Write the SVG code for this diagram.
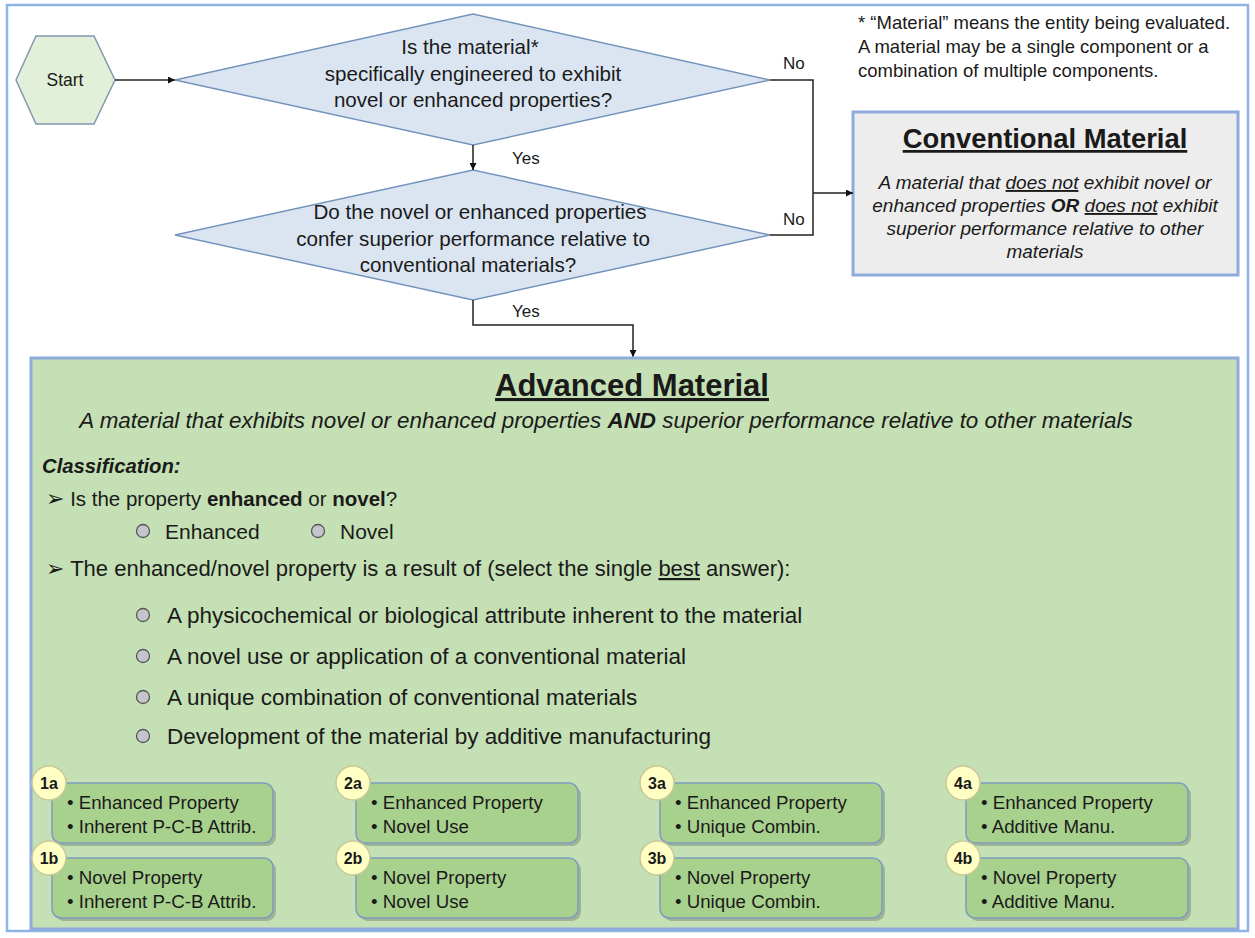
<svg xmlns="http://www.w3.org/2000/svg" width="1255" height="938" viewBox="0 0 1255 938">
<style>
text{font-family:"Liberation Sans",Arial,sans-serif;fill:#1a1a1a}
.q{font-size:20.6px;text-anchor:middle}
.lbl{font-size:17px}
.dia{fill:#dbe5f2;stroke:#7393bd;stroke-width:1.5}
.conn{fill:none;stroke:#222;stroke-width:1.5}
.opt{font-size:22.5px}
.rad{fill:#c4c4cc;stroke:#555;stroke-width:1.3}
.box{fill:#a9d18e;stroke:#7f9cbf;stroke-width:1.5}
.shd{fill:#6f7f6a;opacity:.45}
.badge{fill:#ffffc4;stroke:#c8c89a;stroke-width:1.5}
.bt{font-size:16px;font-weight:bold;text-anchor:middle}
.it{font-size:18.7px}
.ar{font-family:"DejaVu Sans",sans-serif;font-size:22px}
</style>
<defs>
<marker id="ah" viewBox="0 0 10 10" refX="10" refY="5" markerWidth="7" markerHeight="7" markerUnits="userSpaceOnUse" orient="auto"><path d="M0,0L10,5L0,10z" fill="#111"/></marker>
</defs>
<rect x="0" y="0" width="1255" height="938" fill="#fff"/>
<rect x="7" y="5" width="1241" height="926" fill="none" stroke="#8eb4e3" stroke-width="2.5"/>

<g id="start">
<polygon points="16,80 36,36 94,36 115,80 94,124 36,124" fill="#e2efd9" stroke="#8497b0" stroke-width="1.5"/>
<text x="65" y="86" font-size="17.5" text-anchor="middle">Start</text>
</g>

<g id="q1">
<polygon class="dia" points="175,80 473,14 770,80 473,145"/>
<text class="q" x="470" y="54">Is the material*</text>
<text class="q" x="473" y="81">specifically engineered to exhibit</text>
<text class="q" x="473" y="107">novel or enhanced properties?</text>
</g>

<g id="q2">
<polygon class="dia" points="175,235 473,170 770,235 473,300"/>
<text class="q" x="480" y="219">Do the novel or enhanced properties</text>
<text class="q" x="473" y="246">confer superior performance relative to</text>
<text class="q" x="468" y="272">conventional materials?</text>
</g>

<g id="note">
<text x="858" y="29" font-size="18.5">* “Material” means the entity being evaluated.</text>
<text x="858" y="53" font-size="18.5">A material may be a single component or a</text>
<text x="858" y="77" font-size="18.5">combination of multiple components.</text>
</g>

<g id="conventional">
<rect x="853" y="112" width="385" height="163" fill="#ededed" stroke="#8faadc" stroke-width="3"/>
<text x="1045" y="148" font-size="27.4" font-weight="bold" text-anchor="middle" text-decoration="underline">Conventional Material</text>
<text x="1045" y="189" font-size="19" font-style="italic" text-anchor="middle">A material that <tspan text-decoration="underline">does not</tspan> exhibit novel or</text>
<text x="1045" y="212" font-size="19" font-style="italic" text-anchor="middle">enhanced properties <tspan font-weight="bold">OR</tspan> <tspan text-decoration="underline">does not</tspan> exhibit</text>
<text x="1045" y="235" font-size="19" font-style="italic" text-anchor="middle">superior performance relative to other</text>
<text x="1045" y="258" font-size="19" font-style="italic" text-anchor="middle">materials</text>
</g>

<g id="connectors">
<line class="conn" x1="115" y1="80" x2="175" y2="80" marker-end="url(#ah)"/>
<line class="conn" x1="473" y1="145" x2="473" y2="170" marker-end="url(#ah)"/>
<polyline class="conn" points="770,80 813,80 813,235 770,235"/>
<line class="conn" x1="813" y1="193" x2="853" y2="193" marker-end="url(#ah)"/>
<polyline class="conn" points="473,300 473,325 633,325 633,357" marker-end="url(#ah)"/>
<text class="lbl" x="512" y="164">Yes</text>
<text class="lbl" x="512" y="317">Yes</text>
<text class="lbl" x="783" y="69">No</text>
<text class="lbl" x="783" y="225">No</text>
</g>

<g id="advanced">
<rect x="31" y="358" width="1207" height="571" fill="#c5e0b4" stroke="#8faadc" stroke-width="3"/>
<text x="632" y="396" font-size="31" font-weight="bold" text-anchor="middle" text-decoration="underline">Advanced Material</text>
<text x="606" y="428" font-size="22.4" font-style="italic" text-anchor="middle">A material that exhibits novel or enhanced properties <tspan font-weight="bold">AND</tspan> superior performance relative to other materials</text>
<text x="42" y="473" font-size="20.3" font-weight="bold" font-style="italic">Classification:</text>
<text x="46" y="506" font-size="20.5"><tspan class="ar">➢</tspan> Is the property <tspan font-weight="bold">enhanced</tspan> or <tspan font-weight="bold">novel</tspan>?</text>
<circle class="rad" cx="143" cy="531" r="6.5"/>
<text x="165" y="539" font-size="21">Enhanced</text>
<circle class="rad" cx="318" cy="531" r="6.5"/>
<text x="340" y="539" font-size="21">Novel</text>
<text x="46" y="576" font-size="22"><tspan class="ar">➢</tspan> The enhanced/novel property is a result of (select the single <tspan text-decoration="underline">best</tspan> answer):</text>
<circle class="rad" cx="143" cy="615" r="6.5"/>
<text class="opt" x="167" y="623">A physicochemical or biological attribute inherent to the material</text>
<circle class="rad" cx="143" cy="656" r="6.5"/>
<text class="opt" x="167" y="664">A novel use or application of a conventional material</text>
<circle class="rad" cx="143" cy="697" r="6.5"/>
<text class="opt" x="167" y="705">A unique combination of conventional materials</text>
<circle class="rad" cx="143" cy="736" r="6.5"/>
<text class="opt" x="167" y="744">Development of the material by additive manufacturing</text>
</g>

<g id="c1a"><rect class="shd" x="55" y="786" width="221" height="60" rx="9"/><rect class="box" x="52" y="783" width="221" height="60" rx="9"/><text class="it" x="67" y="809">• Enhanced Property</text><text class="it" x="67" y="833">• Inherent P-C-B Attrib.</text><circle class="badge" cx="49" cy="783" r="17"/><text class="bt" x="49" y="789">1a</text></g>
<g id="c1b"><rect class="shd" x="55" y="861" width="221" height="60" rx="9"/><rect class="box" x="52" y="858" width="221" height="60" rx="9"/><text class="it" x="67" y="884">• Novel Property</text><text class="it" x="67" y="908">• Inherent P-C-B Attrib.</text><circle class="badge" cx="49" cy="858" r="17"/><text class="bt" x="49" y="864">1b</text></g>
<g id="c2a"><rect class="shd" x="359" y="786" width="222" height="60" rx="9"/><rect class="box" x="356" y="783" width="222" height="60" rx="9"/><text class="it" x="371" y="809">• Enhanced Property</text><text class="it" x="371" y="833">• Novel Use</text><circle class="badge" cx="353" cy="783" r="17"/><text class="bt" x="353" y="789">2a</text></g>
<g id="c2b"><rect class="shd" x="359" y="861" width="222" height="60" rx="9"/><rect class="box" x="356" y="858" width="222" height="60" rx="9"/><text class="it" x="371" y="884">• Novel Property</text><text class="it" x="371" y="908">• Novel Use</text><circle class="badge" cx="353" cy="858" r="17"/><text class="bt" x="353" y="864">2b</text></g>
<g id="c3a"><rect class="shd" x="663" y="786" width="222" height="60" rx="9"/><rect class="box" x="660" y="783" width="222" height="60" rx="9"/><text class="it" x="675" y="809">• Enhanced Property</text><text class="it" x="675" y="833">• Unique Combin.</text><circle class="badge" cx="657" cy="783" r="17"/><text class="bt" x="657" y="789">3a</text></g>
<g id="c3b"><rect class="shd" x="663" y="861" width="222" height="60" rx="9"/><rect class="box" x="660" y="858" width="222" height="60" rx="9"/><text class="it" x="675" y="884">• Novel Property</text><text class="it" x="675" y="908">• Unique Combin.</text><circle class="badge" cx="657" cy="858" r="17"/><text class="bt" x="657" y="864">3b</text></g>
<g id="c4a"><rect class="shd" x="969" y="786" width="222" height="60" rx="9"/><rect class="box" x="966" y="783" width="222" height="60" rx="9"/><text class="it" x="981" y="809">• Enhanced Property</text><text class="it" x="981" y="833">• Additive Manu.</text><circle class="badge" cx="963" cy="783" r="17"/><text class="bt" x="963" y="789">4a</text></g>
<g id="c4b"><rect class="shd" x="969" y="861" width="222" height="60" rx="9"/><rect class="box" x="966" y="858" width="222" height="60" rx="9"/><text class="it" x="981" y="884">• Novel Property</text><text class="it" x="981" y="908">• Additive Manu.</text><circle class="badge" cx="963" cy="858" r="17"/><text class="bt" x="963" y="864">4b</text></g>
</svg>
